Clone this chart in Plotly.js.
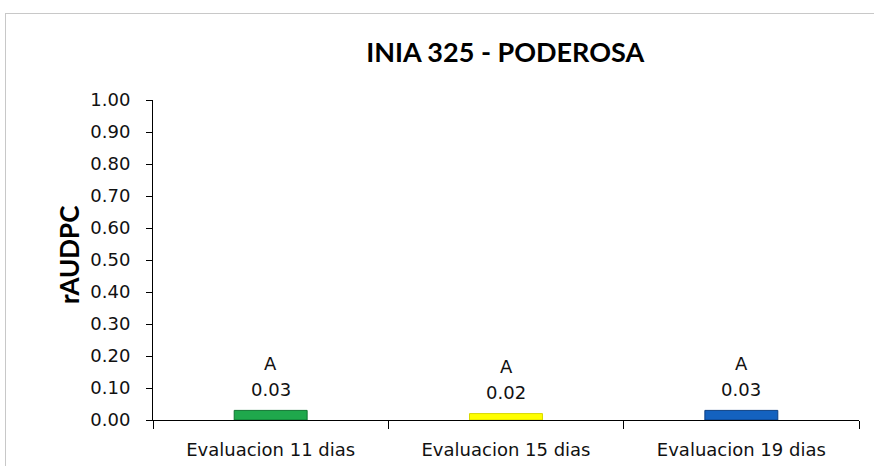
<!DOCTYPE html>
<html><head><meta charset="utf-8">
<script src="https://cdn.plot.ly/plotly-3.0.1.min.js"></script>
<style>
html,body{margin:0;padding:0;background:#fff;}
#frame{position:absolute;left:5px;top:13px;width:869px;height:453px;border-top:1px solid #c8c8c8;border-left:1px solid #c8c8c8;}
#chart{position:absolute;left:0;top:0;width:874px;height:466px;}
</style></head>
<body>
<div id="frame"></div>
<div id="chart"></div>
<script>
const categories = ["Evaluacion 11 dias", "Evaluacion 15 dias", "Evaluacion 19 dias"];
const values = [0.03, 0.02, 0.03];
const letters = ["A", "A", "A"];
const yTicks = [0, 0.1, 0.2, 0.3, 0.4, 0.5, 0.6, 0.7, 0.8, 0.9, 1.0];
const colors = ["#1fa84c", "#ffff00", "#1462bf"];
const lineColors = ["#0f7430", "#d8d800", "#0c3f82"];

const tfont = "'DejaVu Sans', sans-serif";
const bfont = "Lato, 'Open Sans', sans-serif";
const trace = {
  type: "bar",
  x: categories,
  y: values,
  width: 0.31,
  marker: {color: colors, line: {color: lineColors, width: 1}},
  hoverinfo: "none"
};
const annotations = [];
categories.forEach((c, i) => {
  annotations.push({x: c, y: values[i], xref: "x", yref: "y", text: values[i].toFixed(2),
    showarrow: false, yanchor: "middle", yshift: 21, font: {family: tfont, size: 18, color: "#111"}});
  annotations.push({x: c, y: values[i], xref: "x", yref: "y", text: letters[i],
    showarrow: false, yanchor: "middle", yshift: 47, font: {family: tfont, size: 18, color: "#111"}});
});
annotations.push({x: -0.118, y: 0.515, xref: "paper", yref: "paper", text: "<b>rAUDPC</b>",
  textangle: -90, showarrow: false, xanchor: "center", yanchor: "middle",
  font: {family: bfont, size: 26, color: "#000"}});

const layout = {
  width: 874, height: 466,
  margin: {l: 153, r: 15, t: 100, b: 46},
  paper_bgcolor: "rgba(0,0,0,0)",
  plot_bgcolor: "rgba(0,0,0,0)",
  showlegend: false,
  title: {text: "<b>INIA 325 - PODEROSA</b>", x: 0.578, xanchor: "center", y: 0.888, yanchor: "middle",
          font: {family: bfont, size: 27, color: "#000"}},
  xaxis: {
    type: "category",
    tickson: "boundaries",
    ticks: "outside", ticklen: 8, tickcolor: "#000", tickwidth: 1,
    showline: true, linecolor: "#000", linewidth: 1,
    showgrid: false, zeroline: false,
    ticklabelstandoff: 13,
    tickfont: {family: tfont, size: 18, color: "#111"}
  },
  yaxis: {
    range: [0, 1],
    tickvals: yTicks,
    ticktext: yTicks.map(v => v.toFixed(2)),
    ticks: "outside", ticklen: 6, tickcolor: "#000",
    showline: true, linecolor: "#000", linewidth: 1,
    showgrid: false, zeroline: false,
    ticklabelstandoff: 12,
    tickfont: {family: tfont, size: 18, color: "#111"}
  },
  annotations: annotations
};
Plotly.newPlot("chart", [trace], layout, {staticPlot: true});
</script>
</body></html>
